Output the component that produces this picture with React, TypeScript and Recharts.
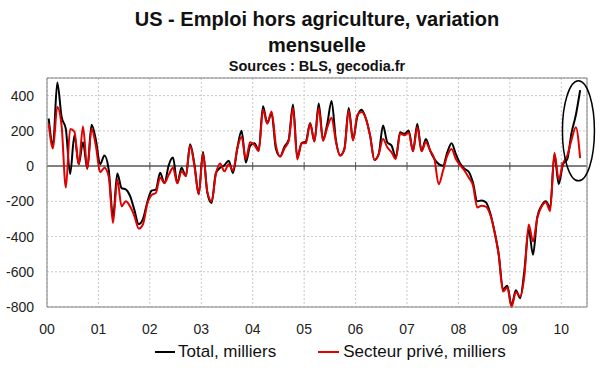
import {
  LineChart,
  Line,
  XAxis,
  YAxis,
  CartesianGrid,
  Legend,
  ReferenceLine,
  ReferenceDot,
} from 'recharts';

// monthly change, thousands, Jan 2000 -> May 2010
const total = [
  270, 120, 475, 280, 210, -45, 175, 10, 135, -15, 235, 150,
  10, 60, -20, -290, -42, -125, -133, -170, -250, -330, -300, -205,
  -140, -133, -38, -97, 5, 48, -97, -10, -57, 124, 10, -160,
  80, -150, -210, -40, -10, 5, 30, -40, 100, 200, 20, 115,
  130, 90, 340, 245, 300, 100, 55, 110, 150, 350, 50, 130,
  140, 245, 140, 355, 150, 240, 370, 150, 60, 100, 330, 150,
  280, 320, 270, 173, 34, 68, 230, 135, 116, 50, 192, 183,
  202, 84, 240, 84, 154, 88, 40, 11, 2, 78, 130, 68,
  15, -15, -32, -95, -200, -195, -205, -265, -370, -500, -700, -680,
  -790, -705, -750, -590, -360, -503, -290, -225, -200, -236, 65, -103,
  10, 40, 190, 290, 431,
];

const prive = [
  240, 100, 335, 230, -122, 210, 195, 10, 225, -15, 210, 115,
  -35, -10, -60, -323, -76, -229, -200, -230, -284, -355, -330, -215,
  -165, -152, -65, -97, -50, -10, -97, -29, -57, 116, 0, -160,
  70, -145, -200, -45, 15, -30, 10, -25, 100, 165, 40, 135,
  120, 85, 320, 240, 310, 120, 54, 100, 143, 330, 38, 130,
  130, 240, 140, 330, 143, 220, 275, 140, 60, 95, 316, 145,
  290, 307, 270, 170, 34, 68, 154, 107, 78, 40, 185, 175,
  190, 84, 221, 84, 135, 88, 40, -103, -27, 59, 97, 40,
  5, -25, -65, -110, -235, -225, -230, -275, -370, -505, -712, -690,
  -800, -715, -740, -620, -331, -427, -295, -230, -205, -255, 75, -74,
  15, 60, 150, 220, 45,
];

const yearLabels = ['00', '01', '02', '03', '04', '05', '06', '07', '08', '09', '10'];
const yTicks = [-800, -600, -400, -200, 0, 200, 400];

const data = total.map((t, i) => ({ x: i + 0.4, total: t, prive: prive[i] }));
const xTicks = yearLabels.map((_, i) => i * 12);

const font = '"Liberation Sans", Arial, sans-serif';
const axisGray = '#808080';

export default function App() {
  return (
    <div
      style={{
        position: 'absolute',
        left: 0,
        top: 0,
        width: 600,
        height: 372,
        background: '#fff',
        fontFamily: font,
      }}
    >
      <LineChart
        width={600}
        height={372}
        data={data}
        margin={{ top: 78, right: 13, bottom: 0, left: 0 }}
      >
        <CartesianGrid stroke="#c8c8c8" strokeDasharray="2 2" />
        <XAxis
          dataKey="x"
          type="number"
          domain={[0, 126]}
          ticks={xTicks}
          tickFormatter={(v) => yearLabels[v / 12]}
          height={35}
          tickLine={false}
          tickMargin={11}
          axisLine={{ stroke: axisGray }}
          tick={{ fill: '#222', fontSize: 14, fontFamily: font }}
        />
        <YAxis
          domain={[-800, 500]}
          ticks={yTicks}
          width={47}
          tickLine={false}
          tickMargin={7}
          axisLine={{ stroke: axisGray }}
          tick={{ fill: '#222', fontSize: 14, fontFamily: font }}
        />
        <ReferenceLine y={500} stroke={axisGray} />
        <ReferenceLine x={126} stroke={axisGray} />
        <ReferenceLine y={0} stroke={axisGray} strokeWidth={2} />
        {xTicks.slice(1).map((t) => (
          <ReferenceLine
            key={t}
            segment={[
              { x: t, y: -22 },
              { x: t, y: 22 },
            ]}
            stroke="#555"
          />
        ))}
        <Legend
          verticalAlign="bottom"
          height={30}
          wrapperStyle={{ left: 0, width: 600 }}
          content={() => (
            <div
              style={{
                display: 'flex',
                paddingLeft: 155,
                gap: 42,
                fontSize: 17,
                lineHeight: '20px',
                color: '#111',
                fontFamily: font,
              }}
            >
              <div style={{ display: 'flex', alignItems: 'center', gap: 3 }}>
                <div style={{ width: 20, height: 2, background: '#000' }} />
                <span>Total, milliers</span>
              </div>
              <div style={{ display: 'flex', alignItems: 'center', gap: 4 }}>
                <div style={{ width: 21, height: 2, background: '#e00000' }} />
                <span>Secteur privé, milliers</span>
              </div>
            </div>
          )}
        />
        <Line
          type="monotone"
          dataKey="total"
          stroke="#000"
          strokeWidth={2}
          dot={false}
          isAnimationActive={false}
        />
        <Line
          type="monotone"
          dataKey="prive"
          stroke="#e00000"
          strokeWidth={2}
          dot={false}
          isAnimationActive={false}
        />
        <ReferenceDot
          x={124}
          y={200}
          ifOverflow="visible"
          shape={(p: any) => (
            <ellipse
              cx={p.cx}
              cy={p.cy}
              rx={16}
              ry={50}
              fill="none"
              stroke="#000"
              strokeWidth={1.5}
            />
          )}
        />
      </LineChart>
      <div
        style={{
          position: 'absolute',
          top: 6,
          left: 47,
          width: 540,
          textAlign: 'center',
          fontSize: 20,
          fontWeight: 'bold',
          lineHeight: '26px',
          color: '#111',
        }}
      >
        US - Emploi hors agriculture, variation
        <br />
        mensuelle
      </div>
      <div
        style={{
          position: 'absolute',
          top: 58,
          left: 47,
          width: 540,
          textAlign: 'center',
          fontSize: 14.5,
          fontWeight: 'bold',
          lineHeight: '16px',
          color: '#111',
        }}
      >
        Sources : BLS, gecodia.fr
      </div>
    </div>
  );
}
